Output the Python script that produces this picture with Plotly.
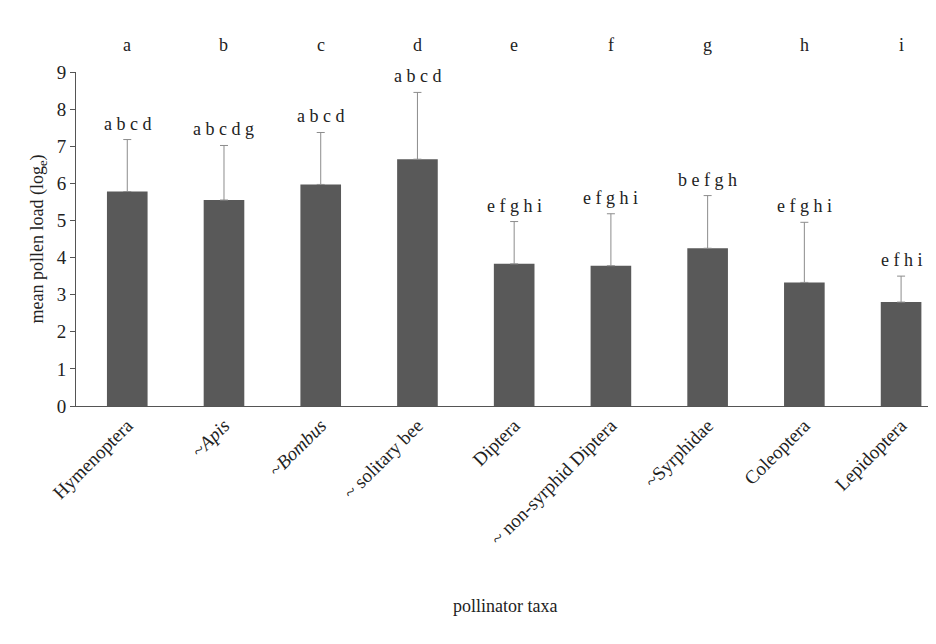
import plotly.graph_objects as go

taxa = ["Hymenoptera", "~<i>Apis</i>", "~<i>Bombus</i>", "~ solitary bee", "Diptera",
        "~ non-syrphid Diptera", "~Syrphidae", "Coleoptera", "Lepidoptera"]
means = [5.78, 5.55, 5.97, 6.65, 3.83, 3.78, 4.25, 3.33, 2.80]
upper = [7.18, 7.02, 7.37, 8.45, 4.97, 5.18, 5.67, 4.95, 3.50]
top_letters = ["a", "b", "c", "d", "e", "f", "g", "h", "i"]
groups = ["a b c d", "a b c d g", "a b c d", "a b c d", "e f g h i",
          "e f g h i", "b e f g h", "e f g h i", "e f h i"]

font = "Liberation Serif, Times New Roman, serif"
x = list(range(len(taxa)))

fig = go.Figure()
fig.add_trace(go.Bar(
    x=x, y=means, width=0.42, marker_color="#595959", marker_line_width=0,
    error_y=dict(type="data", symmetric=False,
                 array=[u - m for u, m in zip(upper, means)],
                 arrayminus=[0] * len(means),
                 color="#8c8c8c", thickness=1, width=4),
))

for i in x:
    fig.add_annotation(x=i, y=upper[i], text=groups[i], showarrow=False,
                       yshift=16, font=dict(size=18, color="#222"))
    fig.add_annotation(x=i, y=1.0, yref="paper", text=top_letters[i],
                       showarrow=False, yshift=39, font=dict(size=18, color="#222"))

fig.add_annotation(x=0.5, xref="paper", y=-0.635, yref="paper", text="pollinator taxa",
                   showarrow=False, font=dict(size=18, color="#222"))

fig.update_layout(
    width=936, height=644, margin=dict(l=68, r=11, t=64, b=246),
    plot_bgcolor="white", paper_bgcolor="white",
    font=dict(family=font, size=18, color="#222"), showlegend=False,
)
fig.update_xaxes(tickmode="array", tickvals=x, ticktext=taxa, tickangle=-45,
                 range=[-0.53, 8.33], showline=True, linecolor="#555",
                 showgrid=False, ticks="", tickfont=dict(size=19))
fig.update_yaxes(range=[0, 9], dtick=1, showline=True, linecolor="#555",
                 ticks="outside", ticklen=5, tickcolor="#555", showgrid=False,
                 zeroline=False, tickfont=dict(size=19),
                 title=dict(text="mean pollen load (log<sub>e</sub>)", standoff=8,
                            font=dict(size=18)))

fig.write_html("out.html")
